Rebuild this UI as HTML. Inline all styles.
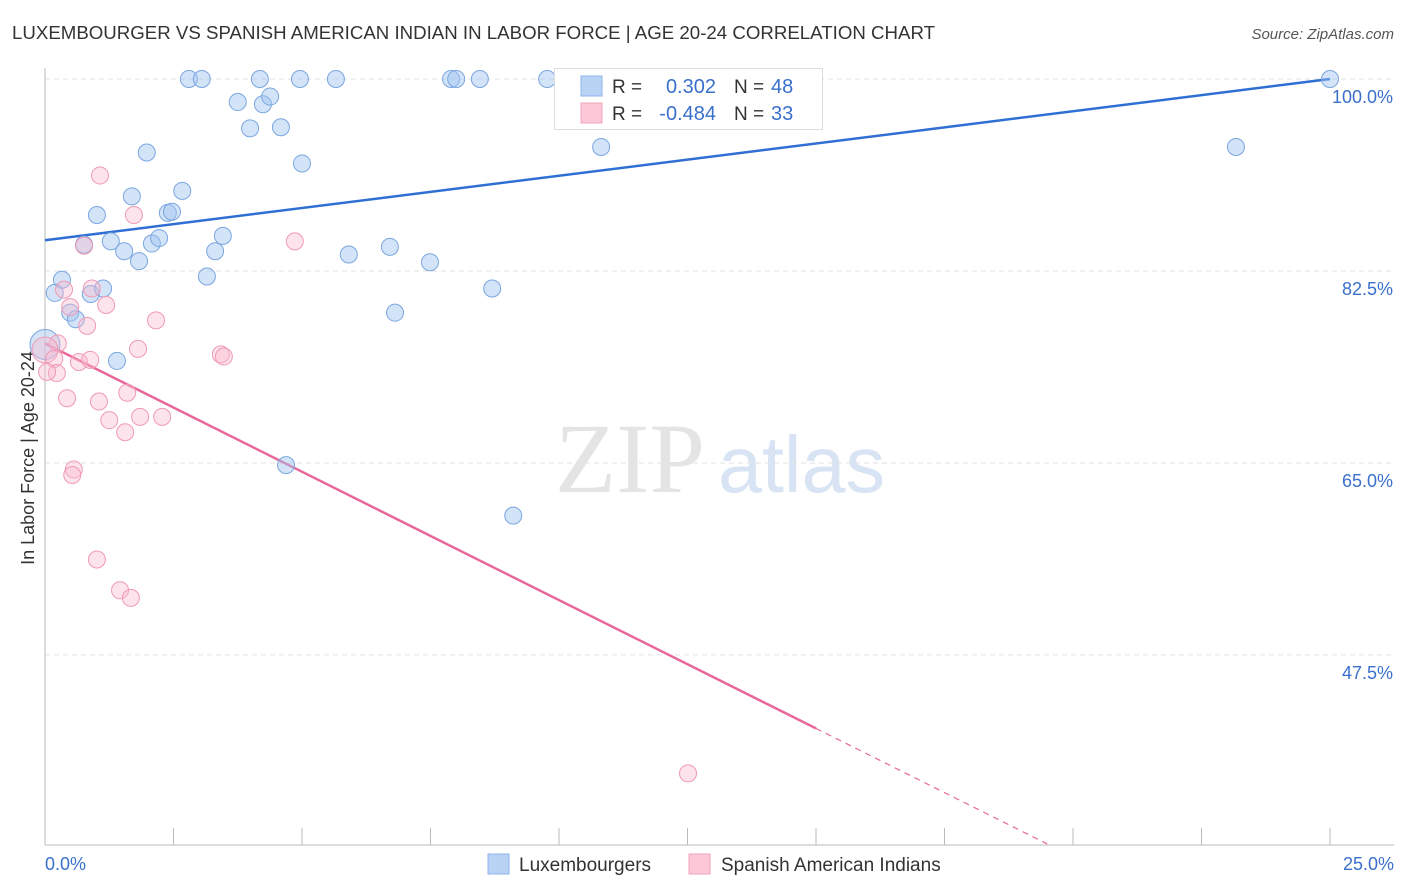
<!DOCTYPE html>
<html><head><meta charset="utf-8"><style>
body{margin:0;background:#fff;font-family:"Liberation Sans",sans-serif;}
#wrap{position:relative;width:1406px;height:892px;overflow:hidden;}
</style></head><body>
<div id="wrap">
<svg id="svg" width="1406" height="892" xmlns="http://www.w3.org/2000/svg">
<text x="12" y="39" font-size="18" fill="#333" textLength="923" lengthAdjust="spacingAndGlyphs">LUXEMBOURGER VS SPANISH AMERICAN INDIAN IN LABOR FORCE | AGE 20-24 CORRELATION CHART</text>
<text x="1394" y="39" font-size="15" fill="#555" text-anchor="end" font-style="italic">Source: ZipAtlas.com</text>
<text x="34" y="458" font-size="18" fill="#333" text-anchor="middle" transform="rotate(-90 34 458)">In Labor Force | Age 20-24</text>
<text x="555" y="492" font-size="100" fill="#e4e4e4" font-family="Liberation Serif,serif">ZIP</text>
<text x="718" y="492" font-size="80" fill="#d8e4f4" textLength="167" lengthAdjust="spacingAndGlyphs">atlas</text>
<g id="grid"></g><g id="axes"></g><g id="lines"></g><g id="pts"></g>
<g>
<rect x="554.5" y="68.5" width="268" height="61" fill="#fff" stroke="#ddd"/>
<rect x="581" y="76" width="21" height="20" fill="#b9d3f5" stroke="#8db4ea"/>
<rect x="581" y="103" width="21" height="20" fill="#fcc8d8" stroke="#f2a2bc"/>
<text x="612" y="93" font-size="19" fill="#333">R =</text><text x="716" y="93" font-size="20" fill="#3a70cc" text-anchor="end">0.302</text>
<text x="734" y="93" font-size="19" fill="#333">N =</text><text x="771" y="93" font-size="20" fill="#3a70cc">48</text>
<text x="612" y="120" font-size="19" fill="#333">R =</text><text x="716" y="120" font-size="20" fill="#3a70cc" text-anchor="end">-0.484</text>
<text x="734" y="120" font-size="19" fill="#333">N =</text><text x="771" y="120" font-size="20" fill="#3a70cc">33</text>
</g>
<g>
<rect x="488" y="854" width="21" height="20" fill="#b9d3f5" stroke="#8db4ea"/>
<text x="519" y="871" font-size="19" fill="#333">Luxembourgers</text>
<rect x="689" y="854" width="21" height="20" fill="#fcc8d8" stroke="#f2a2bc"/>
<text x="721" y="871" font-size="19" fill="#333">Spanish American Indians</text>
</g>
</svg>
</div>
<script>
const xTicks=[0,2.5,5,7.5,10,12.5,15,17.5,20,22.5,25];
const yTicks=[100,82.5,65,47.5];
const yTickLabels=["100.0%","82.5%","65.0%","47.5%"];
const blueX=[2.80,3.05,4.18,4.96,5.66,7.90,8.00,8.46,9.77,25.0,3.75,4.24,4.38,3.99,4.59,1.98,10.82,23.17,5.0,1.69,2.67,1.01,2.39,2.47,1.28,0.76,1.54,2.08,2.22,1.83,3.31,3.46,5.91,6.71,7.49,3.15,0.33,0.19,0.89,1.13,8.70,0.49,0.60,6.81,1.40,0,4.69,9.11];
const blueY=[100,100,100,100,100,100,100,100,100,100,97.9,97.7,98.4,95.5,95.6,93.3,93.8,93.8,92.3,89.3,89.8,87.6,87.8,87.9,85.2,84.9,84.3,85.0,85.5,83.4,84.3,85.7,84.0,84.7,83.3,82.0,81.7,80.5,80.4,80.9,80.9,78.7,78.1,78.7,74.3,75.8,64.8,60.2];
const pinkX=[1.07,1.73,4.86,0.76,0.37,0.91,1.19,0.49,2.16,0.82,0.25,0,0.18,0.23,0.04,0.66,0.88,1.81,3.42,3.48,0.43,1.05,1.60,1.25,1.85,2.28,1.56,0.56,0.53,1.01,1.46,1.67,12.51];
const pinkY=[91.2,87.6,85.2,84.8,80.8,80.9,79.4,79.2,78.0,77.5,75.9,75.3,74.5,73.2,73.3,74.2,74.4,75.4,74.9,74.7,70.9,70.6,71.4,68.9,69.2,69.2,67.8,64.4,63.9,56.2,53.4,52.7,36.7];
const blueTrend=[85.3,100];
const pinkTrend=[75.9,-2.34];
const NS="http://www.w3.org/2000/svg";
const X=v=>45+v*51.4, Y=v=>79+(100-v)*10.97;
function mk(t,a,p){const e=document.createElementNS(NS,t);for(const k in a)e.setAttribute(k,a[k]);document.getElementById(p).appendChild(e);return e;}
yTicks.forEach((t,i)=>{
 const l=mk('line',{x1:45,x2:1394,y1:Y(t),y2:Y(t),stroke:'#e2e2e2','stroke-dasharray':'5,4'},'grid');
 
 
 const tx=mk('text',{x:1393,y:Y(t)+24,'font-size':18,fill:'#3a70cc','text-anchor':'end'},'axes');tx.textContent=yTickLabels[i];
 
 
});
let a=mk('line',{x1:45,x2:45,y1:68,y2:845,stroke:'#bbb'},'axes');


a=mk('line',{x1:45,x2:1394,y1:845,y2:845,stroke:'#bbb'},'axes');


xTicks.forEach(t=>{const l=mk('line',{x1:X(t),x2:X(t),y1:828,y2:845,stroke:'#bbb'},'axes');
 
 });
let t1=mk('text',{x:45,y:870,'font-size':18,fill:'#3a70cc'},'axes');t1.textContent='0.0%';


t1=mk('text',{x:1394,y:870,'font-size':18,fill:'#3a70cc','text-anchor':'end'},'axes');t1.textContent='25.0%';


blueX.forEach((v,i)=>{const c=mk('circle',{cx:X(v),cy:Y(blueY[i]),r:v===0?15:8.5,fill:'rgba(160,195,240,0.45)',stroke:'#7aa6e0','stroke-width':1},'pts');
 
 });
pinkX.forEach((v,i)=>{const c=mk('circle',{cx:X(v),cy:Y(pinkY[i]),r:v===0?13:8.5,fill:'rgba(250,185,205,0.4)',stroke:'#ef9ab6','stroke-width':1},'pts');
 
 });
let ln=mk('line',{x1:X(0),y1:Y(blueTrend[0]),x2:X(25),y2:Y(blueTrend[1]),stroke:'#2f6fd4','stroke-width':2.5},'lines');


const pe=15, pd=19.5;
ln=mk('line',{x1:X(0),y1:Y(pinkTrend[0]),x2:X(pe),y2:Y(pinkTrend[0]+pinkTrend[1]*pe),stroke:'#e8689a','stroke-width':2.5},'lines');


ln=mk('line',{x1:X(pe),y1:Y(pinkTrend[0]+pinkTrend[1]*pe),x2:X(pd),y2:Y(pinkTrend[0]+pinkTrend[1]*pd),stroke:'#e8689a','stroke-width':1.2,'stroke-dasharray':'6,5'},'lines');


</script>
</body></html>
